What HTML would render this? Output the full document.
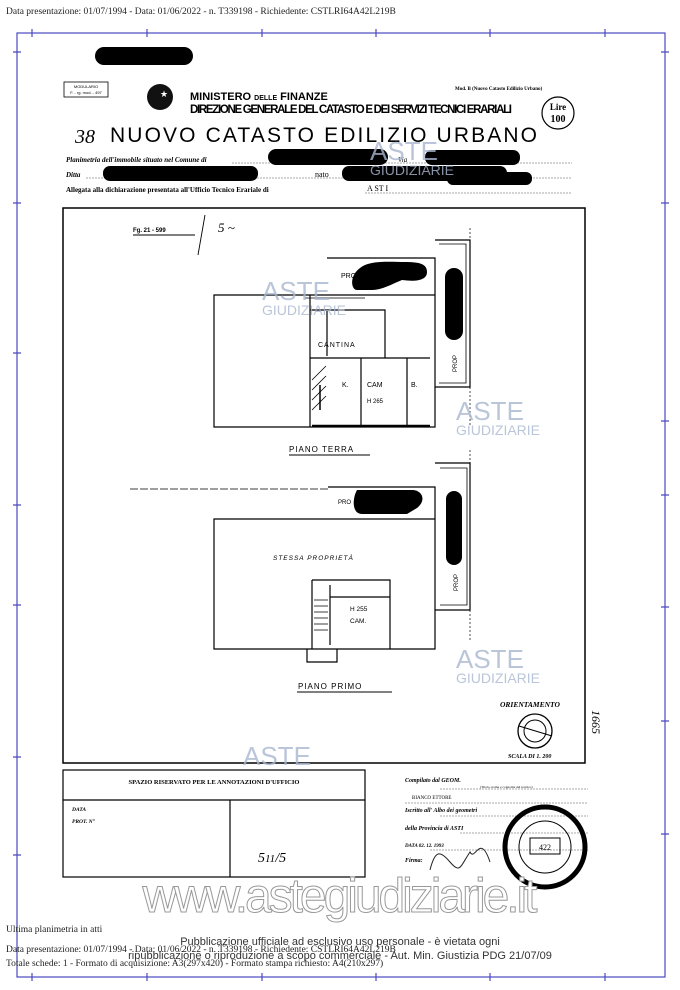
<!DOCTYPE html>
<html><head><meta charset="utf-8"><style>
body{margin:0;background:#fff;width:680px;height:990px;overflow:hidden;font-family:"Liberation Serif",serif}
svg{display:block}
</style></head><body>
<svg width="680" height="990" viewBox="0 0 680 990" xmlns="http://www.w3.org/2000/svg">
<rect width="680" height="990" fill="#fff"/>
<!-- header text -->
<text x="6" y="14" font-size="9.5" fill="#222" font-family="Liberation Serif">Data presentazione: 01/07/1994 - Data: 01/06/2022 - n. T339198 - Richiedente: CSTLRI64A42L219B</text>
<!-- blue frame -->
<g stroke="#4a4ac0" stroke-width="1.2" fill="none">
<rect x="17" y="33" width="648" height="944"/>
<path d="M32 29v8M147 29v8M262 29v8M376 29v8M490 29v8M605 29v8
M32 973v8M147 973v8M262 973v8M376 973v8M490 973v8M605 973v8
M13 52h8M13 203h8M13 353h8M13 505h8M13 605h8M13 757h8M13 855h8
M661 52h8M661 203h8M661 421h8M661 495h8M661 607h8M661 721h8M661 834h8"/>
</g>
<!-- redactions top -->
<rect x="95" y="47" width="98" height="18" rx="9" fill="#000"/>
<!-- header form -->
<rect x="64" y="82" width="44" height="15" fill="none" stroke="#000" stroke-width="0.8"/>
<text x="86" y="88" font-size="4" text-anchor="middle" font-family="Liberation Sans">MODULARIO</text>
<text x="86" y="94" font-size="4" text-anchor="middle" font-family="Liberation Sans">F. - rg. mod. - 497</text>
<circle cx="160" cy="97" r="13" fill="#111"/>
<text x="164" y="97" font-size="9" fill="#fff" text-anchor="middle">★</text>
<text x="190" y="100" font-size="11" font-weight="bold" font-family="Liberation Sans">MINISTERO <tspan font-size="7">DELLE</tspan> FINANZE</text>
<text x="190" y="113" font-size="11.5" font-weight="bold" font-family="Liberation Sans" textLength="322">DIREZIONE GENERALE DEL CATASTO E DEI SERVIZI TECNICI ERARIALI</text>
<text x="455" y="90" font-size="5" font-weight="bold">Mod. B (Nuovo Catasto Edilizio Urbano)</text>
<circle cx="558" cy="113" r="16" fill="none" stroke="#000" stroke-width="1.2"/>
<text x="558" y="110" font-size="9" text-anchor="middle" font-weight="bold">Lire</text>
<text x="558" y="122" font-size="10" text-anchor="middle" font-weight="bold">100</text>
<text x="75" y="143" font-size="20" font-family="Liberation Serif" font-style="italic">38</text>
<text x="110" y="142" font-size="21" font-family="Liberation Sans" textLength="427">NUOVO CATASTO EDILIZIO URBANO</text>
<text x="66" y="162" font-size="7" font-style="italic" font-weight="bold">Planimetria dell'immobile situato nel Comune di</text>
<text x="66" y="177" font-size="7" font-style="italic" font-weight="bold">Ditta</text>
<text x="66" y="192" font-size="7" font-weight="bold">Allegata alla dichiarazione presentata all'Ufficio Tecnico Erariale di</text>
<text x="367" y="191" font-size="8">A ST I</text>
<path d="M232 163h340M86 178h486M365 193h207" stroke="#555" stroke-width="0.6" stroke-dasharray="2 1"/>
<text x="398" y="162" font-size="7" font-style="italic">Via</text>
<text x="315" y="177" font-size="8">nato</text>
<rect x="268" y="149" width="120" height="16" rx="8" fill="#000"/>
<rect x="425" y="150" width="95" height="15" rx="7" fill="#000"/>
<rect x="103" y="166" width="155" height="15" rx="7" fill="#000"/>
<rect x="342" y="166" width="165" height="15" rx="7" fill="#000"/>
<rect x="447" y="172" width="85" height="13" rx="6" fill="#000"/>
<!-- main drawing frame -->
<rect x="63" y="208" width="522" height="555" fill="none" stroke="#000" stroke-width="1.5"/>
<text x="133" y="232" font-size="6" font-weight="bold" font-family="Liberation Sans">Fg. 21  -  599</text>
<path d="M133 235h62M205 215l-7 40" stroke="#000" stroke-width="0.9"/>
<text x="218" y="232" font-size="13" font-style="italic">5 ~</text>
<!-- upper plan -->
<g fill="none" stroke="#000" stroke-width="1.2">
<path d="M214 295h221v132h-221zM327 258h108v37M435 240h35v147h-35"/>
<path d="M439 244h27v139h-27" stroke-width="0.8"/>
<path d="M310 295v132M310 310h75v48M310 358h120M361 358v69M407 358v69M327 310v46"/>
<path d="M312 426h118" stroke-width="2.5"/>
<path d="M305 298h60M312 380l14-14M312 390l14-14M312 400l14-14M312 410l14-14" stroke-width="0.8"/>
<path d="M320 385v25" stroke-width="1.5"/>
<path d="M470 228v12M470 387v40" stroke-dasharray="2 2" stroke-width="0.7"/>
</g>
<path d="M360 268c10-8 30-6 45-6s22 2 22 10-10 10-25 8c-10 4-20 10-30 10l-15 0c-6 0-8-14 3-22z" fill="#000"/>
<rect x="445" y="268" width="18" height="72" rx="9" fill="#000"/>
<text x="341" y="278" font-size="7" font-family="Liberation Sans">PROP</text>
<text x="318" y="347" font-size="7" font-family="Liberation Sans" letter-spacing="1">CANTINA</text>
<text x="342" y="387" font-size="7" font-family="Liberation Sans">K.</text>
<text x="367" y="387" font-size="7" font-family="Liberation Sans">CAM</text>
<text x="367" y="403" font-size="6" font-family="Liberation Sans">H 265</text>
<text x="411" y="387" font-size="7" font-family="Liberation Sans">B.</text>
<text x="457" y="372" font-size="6" font-family="Liberation Sans" transform="rotate(-90 457 372)">PROP</text>
<text x="289" y="452" font-size="8" font-family="Liberation Sans" letter-spacing="1">PIANO  TERRA</text>
<path d="M289 455h81" stroke="#000"/>
<!-- lower plan -->
<g fill="none" stroke="#000" stroke-width="1.2">
<path d="M214 519h221v130h-221zM328 487h107v32M435 463h35v147h-35"/>
<path d="M440 468h27v137h-27" stroke-width="0.8"/>
<path d="M312 580h78v69M312 580v69M330 585v60M330 597h60M307 649v13h30v-13"/>
<path d="M130 489h198" stroke-width="0.8" stroke-dasharray="8 2"/>
<path d="M314 600h14M314 606h14M314 612h14M314 618h14M314 624h14M314 630h14" stroke-width="0.7"/>
<path d="M470 450v13M470 610v30" stroke-dasharray="2 2" stroke-width="0.7"/>
</g>
<path d="M357 490h55c10 0 15 10 5 18l-10 6h-45c-10 0-10-15-5-24z" fill="#000"/>
<rect x="446" y="491" width="16" height="74" rx="8" fill="#000"/>
<text x="338" y="504" font-size="6" font-family="Liberation Sans">PRO</text>
<text x="273" y="560" font-size="6.5" font-family="Liberation Sans" letter-spacing="1" font-style="italic">STESSA PROPRIETÀ</text>
<text x="350" y="611" font-size="6.5" font-family="Liberation Sans">H 255</text>
<text x="350" y="623" font-size="6.5" font-family="Liberation Sans">CAM.</text>
<text x="458" y="591" font-size="6" font-family="Liberation Sans" transform="rotate(-90 458 591)">PROP</text>
<text x="298" y="689" font-size="8" font-family="Liberation Sans" letter-spacing="1">PIANO    PRIMO</text>
<path d="M297 692h95" stroke="#000"/>
<text x="500" y="707" font-size="7.5" font-weight="bold" font-style="italic">ORIENTAMENTO</text>
<circle cx="535" cy="731" r="17" fill="none" stroke="#000" stroke-width="1.3"/>
<circle cx="535" cy="731" r="11" fill="none" stroke="#000" stroke-width="1"/>
<path d="M519 726l33 10" stroke="#000"/>
<text x="508" y="758" font-size="6" font-weight="bold" font-style="italic">SCALA DI 1. 200</text>
<text x="592" y="710" font-size="12" font-style="italic" transform="rotate(90 592 710)">1665</text>
<!-- bottom table -->
<g fill="none" stroke="#000" stroke-width="1.2">
<rect x="63" y="770" width="302" height="107"/>
<path d="M63 800h302M230 800v77"/>
</g>
<text x="214" y="784" font-size="6.5" font-weight="bold" text-anchor="middle">SPAZIO RISERVATO PER LE ANNOTAZIONI D'UFFICIO</text>
<text x="72" y="811" font-size="5.5" font-weight="bold" font-style="italic">DATA</text>
<text x="72" y="823" font-size="5.5" font-weight="bold" font-style="italic">PROT. N°</text>
<text x="258" y="862" font-size="14" font-style="italic">5<tspan font-size="11">11</tspan>/5</text>
<text x="405" y="782" font-size="6" font-weight="bold" font-style="italic">Compilato dal   GEOM.</text>
<text x="480" y="788" font-size="3.5">(Titolo, nome e cognome del tecnico)</text>
<text x="412" y="799" font-size="5">BIANCO ETTORE</text>
<text x="405" y="812" font-size="6" font-weight="bold" font-style="italic">Iscritto all' Albo dei  geometri</text>
<text x="405" y="830" font-size="6" font-weight="bold" font-style="italic">della Provincia di   ASTI</text>
<text x="405" y="847" font-size="5" font-weight="bold" font-style="italic">DATA   02. 12. 1993</text>
<text x="405" y="862" font-size="6" font-weight="bold" font-style="italic">Firma:</text>
<path d="M440 789h148M405 803h183M440 816h148M460 833h128M430 850h158" stroke="#555" stroke-width="0.5" stroke-dasharray="2 1"/>
<path d="M430 870c5-20 10-20 20-8s10 5 20-10c5 10 10-20 20 10" fill="none" stroke="#222" stroke-width="1"/>
<circle cx="545" cy="847" r="40" fill="none" stroke="#000" stroke-width="5"/>
<circle cx="545" cy="847" r="26" fill="none" stroke="#000" stroke-width="1"/>
<rect x="530" y="838" width="30" height="16" fill="none" stroke="#000" stroke-width="1"/>
<text x="545" y="850" font-size="8" text-anchor="middle">422</text>
<!-- watermark -->
<text x="340" y="912" font-size="48" fill="#fff" stroke="#999" stroke-width="1" text-anchor="middle" font-family="Liberation Sans" textLength="395">www.astegiudiziarie.it</text>
<g font-family="Liberation Sans" fill="#a9b7d0" opacity="0.8">
<text x="262" y="300" font-size="26">ASTE</text><text x="262" y="315" font-size="14">GIUDIZIARIE</text>
<text x="456" y="420" font-size="26">ASTE</text><text x="456" y="435" font-size="14">GIUDIZIARIE</text>
<text x="456" y="668" font-size="26">ASTE</text><text x="456" y="683" font-size="14">GIUDIZIARIE</text>
<text x="243" y="765" font-size="26">ASTE</text>
<text x="370" y="160" font-size="26">ASTE</text><text x="370" y="175" font-size="14">GIUDIZIARIE</text>
</g>
<!-- footer -->
<text x="6" y="932" font-size="9.5" fill="#222">Ultima planimetria in atti</text>
<text x="6" y="952" font-size="9.5" fill="#222">Data presentazione: 01/07/1994 - Data: 01/06/2022 - n. T339198 - Richiedente: CSTLRI64A42L219B</text>
<text x="6" y="966" font-size="9.5" fill="#222">Totale schede: 1 - Formato di acquisizione: A3(297x420) - Formato stampa richiesto: A4(210x297)</text>
<text x="340" y="945" font-size="11" fill="#333" text-anchor="middle" font-family="Liberation Sans">Pubblicazione ufficiale ad esclusivo uso personale - è vietata ogni</text>
<text x="340" y="959" font-size="11" fill="#333" text-anchor="middle" font-family="Liberation Sans">ripubblicazione o riproduzione a scopo commerciale - Aut. Min. Giustizia PDG 21/07/09</text>
</svg>
</body></html>
